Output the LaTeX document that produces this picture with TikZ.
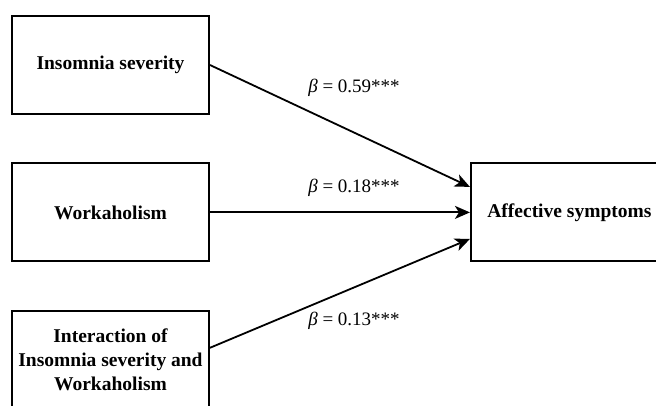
\documentclass[tikz,border=0pt]{standalone}
\usepackage{fontspec}
\setmainfont{Liberation Serif}
\usepackage{tikz}
\usetikzlibrary{arrows.meta,positioning,calc}
\tikzset{
  box/.style={rectangle, draw=black, fill=white, line width=1.9pt, align=center,
              minimum width=197pt, minimum height=98pt, inner sep=2pt,
              font=\fontsize{19.5}{24}\selectfont\bfseries},
  lbl/.style={font=\fontsize{19}{22}\selectfont, inner sep=1pt},
  flow/.style={-{Stealth[length=15pt, width=13pt, inset=4pt]}, draw=black, line width=1.8pt}
}

\begin{document}
\begin{tikzpicture}
 \useasboundingbox (0,0) rectangle (656pt,-406pt);
 \fill[white] (0,0) rectangle (656pt,-406pt);
 \clip (0,0) rectangle (656pt,-406pt);
 \node[box] (ins) at (110.5pt,-65pt) {Insomnia severity};
 \node[box, below=47.5pt of ins] (work) {Workaholism};
 \node[box, below=47.5pt of work] (inter) {Interaction of\\Insomnia severity and\\Workaholism};
 \node[box, right=260pt of work] (aff) {Affective symptoms};
 % paths into the outcome
 \draw[flow] (ins.east) -- ([yshift=25.5pt]aff.west);
 \draw[flow] (work.east) -- (aff.west);
 \draw[flow] ([yshift=12pt]inter.east) -- ([yshift=-26.5pt]aff.west);
 \node[lbl] (b1) at (354pt,-88pt) {\textit{β} = 0.59***};
 \node[lbl] (b2) at (354pt,-188pt) {\textit{β} = 0.18***};
 \node[lbl] (b3) at (354pt,-321pt) {\textit{β} = 0.13***};
\end{tikzpicture}
\end{document}
